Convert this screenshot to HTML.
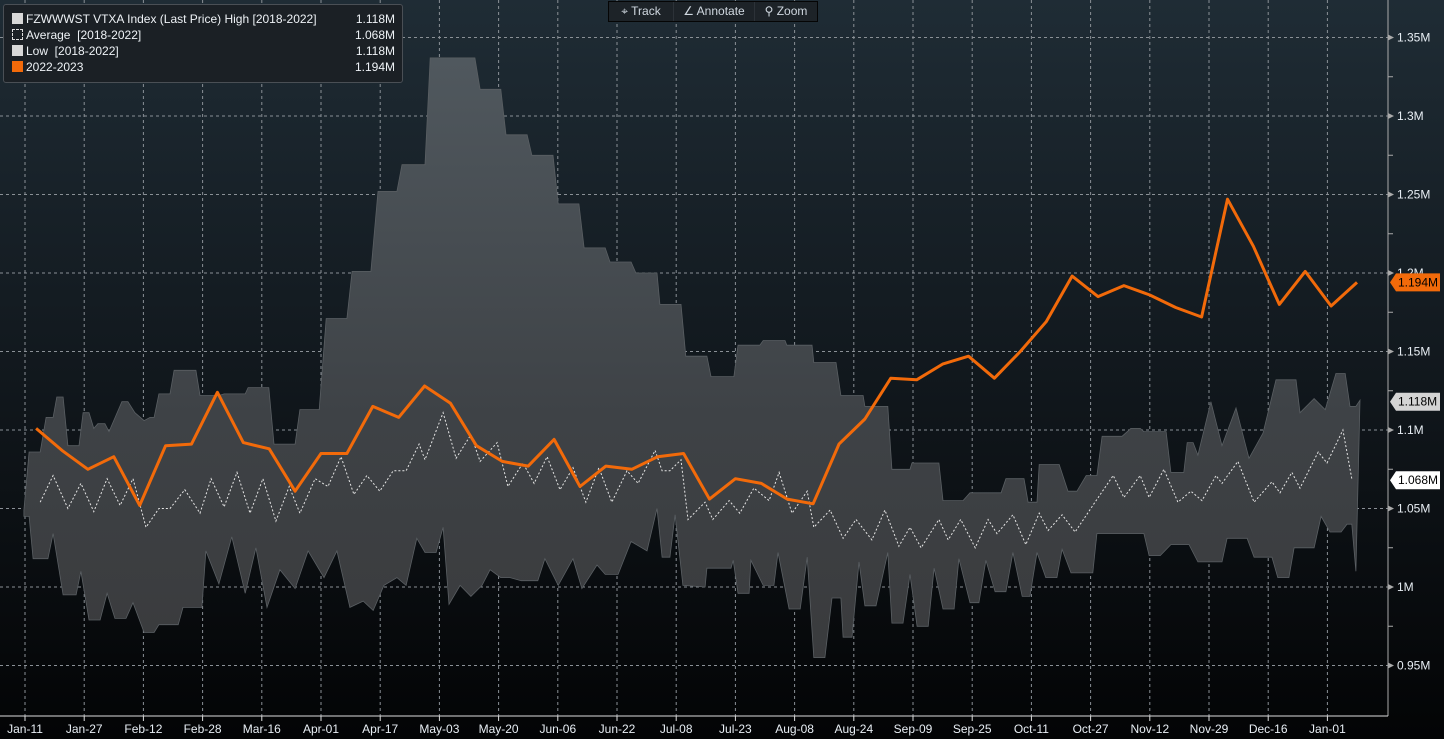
<!DOCTYPE html>
<html><head><meta charset="utf-8"><style>
body{margin:0;background:#000;font-family:"Liberation Sans",sans-serif;}
#wrap{position:relative;width:1444px;height:739px;overflow:hidden;font-family:"Liberation Sans",sans-serif;}
svg{position:absolute;left:0;top:0;font-family:"Liberation Sans",sans-serif;}
</style></head><body>
<div id="wrap">
<svg id="chart" width="1444" height="739">
<defs>
<linearGradient id="bg" x1="0" y1="0" x2="0" y2="1"><stop offset="0" stop-color="#1f2c35"/><stop offset="0.55" stop-color="#10161b"/><stop offset="1" stop-color="#030405"/></linearGradient>
<linearGradient id="band" x1="0" y1="0" x2="0" y2="1"><stop offset="0" stop-color="#50585e"/><stop offset="0.6" stop-color="#3e4246"/><stop offset="1" stop-color="#3a3b3d"/></linearGradient>
</defs>
<rect x="0" y="0" width="1444" height="739" fill="url(#bg)"/>
<g id="grid"></g><g id="series"></g><g id="axes"></g>
</svg>
</div>
<script>
const xLabels=["Jan-11","Jan-27","Feb-12","Feb-28","Mar-16","Apr-01","Apr-17","May-03","May-20","Jun-06","Jun-22","Jul-08","Jul-23","Aug-08","Aug-24","Sep-09","Sep-25","Oct-11","Oct-27","Nov-12","Nov-29","Dec-16","Jan-01"];
const yTicks=[950,1000,1050,1100,1150,1200,1250,1300,1350];
const yTickLabels=["0.95M","1M","1.05M","1.1M","1.15M","1.2M","1.25M","1.3M","1.35M"];
const currentVals=[1101,1087,1075,1083,1052,1090,1091,1124,1092,1088,1061,1085,1085,1115,1108,1128,1117,1090,1080,1077,1094,1064,1077,1075,1083,1085,1056,1069,1066,1056,1053,1091,1107,1133,1132,1142,1147,1133,1150,1169,1198,1185,1192,1186,1178,1172,1247,1217,1180,1201,1179,1194];
const highDays=[-0.3,1.1,4.1,5.7,7.6,8.6,10.3,11.6,14.6,15.7,17.3,18.6,19.7,21.6,22.7,26.2,27.8,29.7,32.2,33.8,34.9,36.2,39.2,40.3,46.2,47.3,52.4,53.8,59.5,60.3,65.9,67.3,73,74.3,79.5,81.4,87,88.4,93.5,95.4,100.5,101.9,108.1,109.5,121.6,123,128.6,130,135.7,137,142.7,144.1,149.7,151.1,156.8,158.1,163.8,165.1,170.8,171.6,177.3,178.6,184.3,185.4,191.6,192.7,198.6,199.5,205.4,205.9,212.7,213.2,219.2,220.5,226.5,227,233.2,234.3,239.2,239.7,247,248.1,253.5,255.4,263.8,265.1,270,271.1,273.5,274.1,279.5,281.9,284.3,286.8,289.7,291.1,296.5,298.9,301.4,302.4,308.4,309.7,313.2,314.1,315.7,317,320.5,323.5,327.3,330.8,334.6,338.1,343.5,344.6,348.4,351.4,354.3,356.8,358.1,359.7,360.8];
const highVals=[1049,1086,1086,1108,1108,1121,1121,1090,1090,1111,1111,1101,1104,1104,1099,1118,1118,1111,1106,1108,1108,1123,1123,1138,1138,1122,1122,1123,1123,1127,1127,1091,1091,1113,1113,1171,1171,1201,1201,1252,1252,1269,1269,1337,1337,1317,1317,1288,1288,1275,1275,1244,1244,1216,1216,1207,1207,1200,1200,1180,1180,1147,1147,1134,1134,1154,1154,1157,1157,1154,1154,1143,1143,1122,1122,1115,1115,1075,1075,1079,1079,1055,1055,1060,1060,1069,1069,1054,1054,1078,1078,1061,1061,1071,1071,1096,1096,1101,1101,1099,1099,1073,1073,1092,1092,1084,1118,1090,1114,1082,1098,1132,1132,1111,1120,1113,1136,1136,1115,1115,1119];
const lowDays=[-0.3,1.1,2.2,6.2,7.6,10.3,13.8,15.1,17.3,20.3,22.2,24.3,27.3,29.2,32.2,34.9,36.2,41.4,42.7,47.8,48.9,52.4,55.9,59.5,62.4,65.4,68.9,73,76.5,80.8,84.3,87.8,91.4,94.1,97,100.5,103,105.9,108.1,111.1,113,114.6,117.6,120.5,123.5,125.7,128.6,131.1,134.1,138.6,140.5,144.1,148.1,150.5,154.6,156.8,160.3,163.8,168.1,170.8,172.2,174.3,175.7,177.8,183.8,184.3,190.8,191.4,192.7,195.7,196.2,199.5,202.4,203.5,206.5,209.5,211.4,213.2,216.2,218.1,220.5,221.1,223.5,225.4,227,230,233.2,234.3,237.3,239.2,241.1,244.1,245.7,248.1,251.1,252.4,255.4,257.8,259.7,262.2,265.1,267,269.5,271.6,273.5,275.9,278.9,280.3,282.7,288.6,289.7,302.4,303.8,306.8,309.7,314.6,317,323.5,324.9,330.3,332.2,337,338.6,341.6,343,348.4,350.3,352.7,355.7,357.3,358.6,359.7,360.8];
const lowVals=[1045,1045,1018,1018,1034,995,995,1010,979,979,996,980,980,990,971,971,976,976,987,987,1023,1002,1032,996,1025,987,1011,999,1023,1006,1023,987,991,985,1001,1006,1001,1031,1022,1022,1038,989,1001,994,1001,1011,1006,1006,1004,1004,1018,1001,1018,999,1014,1008,1008,1029,1023,1050,1019,1019,1046,1001,1000,1012,1012,1017,996,996,1017,1001,1001,1022,986,986,1019,955,955,993,993,968,968,1016,988,988,1022,977,977,1008,975,975,1012,986,986,1018,990,990,1017,997,997,1022,994,994,1022,1006,1006,1024,1009,1009,1034,1034,1020,1020,1027,1027,1016,1016,1031,1031,1019,1019,1006,1006,1025,1025,1045,1035,1035,1040,1040,1010,1119];
const avgDays=[4.1,7.6,11.6,15.1,18.6,22.2,25.7,29.2,32.7,36.2,39.2,43.2,47.3,50.3,53.8,57.3,60.8,64.3,67.8,71.4,74.3,78.4,81.9,85.4,88.9,92.4,95.9,99.5,103,106.5,108.1,113,116.5,120.5,123,127.6,130.5,134.6,137.6,141.1,144.6,148.1,151.6,155.1,158.6,162.7,165.7,170.3,172.2,174.3,177.3,179.2,183.8,185.9,190.3,193.2,197,201.1,203.8,207.3,211.4,213.2,217.6,221.1,224.6,228.9,232.4,236.2,239.2,242.2,247,249.5,252.9,256.8,260.3,262.7,267,270.5,274.1,276.5,280.3,283.8,289.2,294.1,297,301.4,303.8,307.8,311.6,315.1,318.1,321.9,323.5,327.8,332.2,337,339.2,342.4,344.6,349.5,351.9,356.2,358.6];
const avgVals=[1054,1071,1050,1066,1048,1069,1052,1069,1038,1050,1050,1062,1047,1069,1051,1073,1047,1069,1042,1064,1047,1069,1064,1083,1059,1071,1061,1074,1074,1091,1081,1111,1082,1097,1080,1092,1064,1079,1066,1083,1062,1076,1054,1076,1054,1074,1066,1087,1074,1074,1081,1043,1054,1043,1055,1047,1063,1055,1073,1047,1061,1038,1049,1031,1043,1030,1049,1026,1038,1025,1043,1030,1043,1025,1043,1034,1046,1027,1047,1036,1046,1035,1054,1071,1057,1071,1057,1075,1054,1061,1055,1071,1066,1080,1054,1067,1060,1073,1063,1086,1079,1100,1069];
const NS="http://www.w3.org/2000/svg";
const X=d=>25+d*3.7, Y=v=>587-(v-1000)*1.57;
function mk(tag,attrs,parent){const e=document.createElementNS(NS,tag);for(const k in attrs)e.setAttribute(k,attrs[k]);parent.appendChild(e);return e;}
const grid=document.getElementById('grid'),ser=document.getElementById('series'),ax=document.getElementById('axes');
xLabels.forEach((l,i)=>{const x=X(16*i);
 const g=mk('line',{x1:x,x2:x,y1:0,y2:716,stroke:'#8a9096','stroke-width':1,'stroke-dasharray':'3,3'},grid);
 
 const t=mk('text',{x:x,y:733,'text-anchor':'middle',fill:'#e8eef4','font-size':12},ax);t.textContent=l;
 
 const tk=mk('line',{x1:x,x2:x,y1:716,y2:721,stroke:'#ddd'},ax);
 });
yTicks.forEach((v,i)=>{const y=Y(v);
 const g=mk('line',{x1:0,x2:1388,y1:y,y2:y,stroke:'#8a9096','stroke-width':1,'stroke-dasharray':'3,3'},grid);
 
 const p=mk('path',{d:`M1388 ${y-3}L1394 ${y}L1388 ${y+3}Z`,fill:'#aaa'},ax);
 
 const m=mk('line',{x1:1388,x2:1393,y1:Y(v+25),y2:Y(v+25),stroke:'#aaa'},ax);
 
 const t=mk('text',{x:1397,y:y+4,fill:'#e8eef4','font-size':12},ax);t.textContent=yTickLabels[i];
 });
let d='';highDays.forEach((dd,i)=>{d+=(i?'L':'M')+X(dd).toFixed(1)+' '+Y(highVals[i]).toFixed(1);});
for(let i=lowDays.length-1;i>=0;i--)d+='L'+X(lowDays[i]).toFixed(1)+' '+Y(lowVals[i]).toFixed(1);
const band=mk('path',{d:d+'Z',fill:'url(#band)',stroke:'#5a5f63','stroke-width':0.8},ser);

const avg=mk('polyline',{points:avgDays.map((dd,i)=>X(dd).toFixed(1)+','+Y(avgVals[i]).toFixed(1)).join(' '),fill:'none',stroke:'#e6e6e6','stroke-width':1,'stroke-dasharray':'2,2'},ser);

const cur=mk('polyline',{points:currentVals.map((v,i)=>X(3+7*i).toFixed(1)+','+Y(v).toFixed(1)).join(' '),fill:'none',stroke:'#f26a0a','stroke-width':3,'stroke-linejoin':'round'},ser);

const axl=mk('line',{x1:1388,x2:1388,y1:0,y2:716,stroke:'#aaa'},ax);

const bxl=mk('line',{x1:0,x2:1388,y1:716,y2:716,stroke:'#ddd'},ax);

const tags=[[1194,'1.194M','#f26a0a','#000','last-value-tag'],[1118,'1.118M','#d4d4d4','#000','high-value-tag'],[1068,'1.068M','#ffffff','#000','average-value-tag']];
tags.forEach(t=>{const y=Y(t[0]);
 const p=mk('path',{d:`M1390 ${y}L1396 ${y-9}L1440 ${y-9}L1440 ${y+9}L1396 ${y+9}Z`,fill:t[2]},ax);
 
 const tx=mk('text',{x:1398,y:y+4,fill:t[3],'font-size':12},ax);tx.textContent=t[1];
 });
</script>
<div style="position:absolute;left:3px;top:4px;width:398px;height:77px;background:#1b2025;border:1px solid #4a4f55;border-radius:3px;color:#eef2f6;font-size:12px;line-height:16px;font-family:'Liberation Sans',sans-serif;">
 <div style="position:absolute;left:8px;top:6px;"><span style="display:inline-block;width:11px;height:11px;background:#d8d8d8;vertical-align:-1px;margin-right:3px"></span>FZWWWST VTXA Index (Last Price) High [2018-2022]</div>
 <div style="position:absolute;left:8px;top:22px;"><span style="display:inline-block;width:9px;height:9px;border:1px dashed #ddd;vertical-align:-1px;margin-right:3px"></span>Average&nbsp; [2018-2022]</div>
 <div style="position:absolute;left:8px;top:38px;"><span style="display:inline-block;width:11px;height:11px;background:#d8d8d8;vertical-align:-1px;margin-right:3px"></span>Low&nbsp; [2018-2022]</div>
 <div style="position:absolute;left:8px;top:54px;"><span style="display:inline-block;width:11px;height:11px;background:#f26a0a;vertical-align:-1px;margin-right:3px"></span>2022-2023</div>
 <div style="position:absolute;right:7px;top:6px;text-align:right">1.118M<br>1.068M<br>1.118M<br>1.194M</div>
</div>
<div style="position:absolute;left:608px;top:1px;width:208px;height:19px;background:#1d2328;border:1px solid #050505;color:#d0d8e0;font-size:12px;line-height:19px;display:flex;font-family:'Liberation Sans',sans-serif;">
 <div style="width:64px;text-align:center;border-right:1px solid #2c3238">⌖ Track</div>
 <div style="width:80px;text-align:center;border-right:1px solid #2c3238">∠ Annotate</div>
 <div style="width:62px;text-align:center">⚲ Zoom</div>
</div>
</body></html>
